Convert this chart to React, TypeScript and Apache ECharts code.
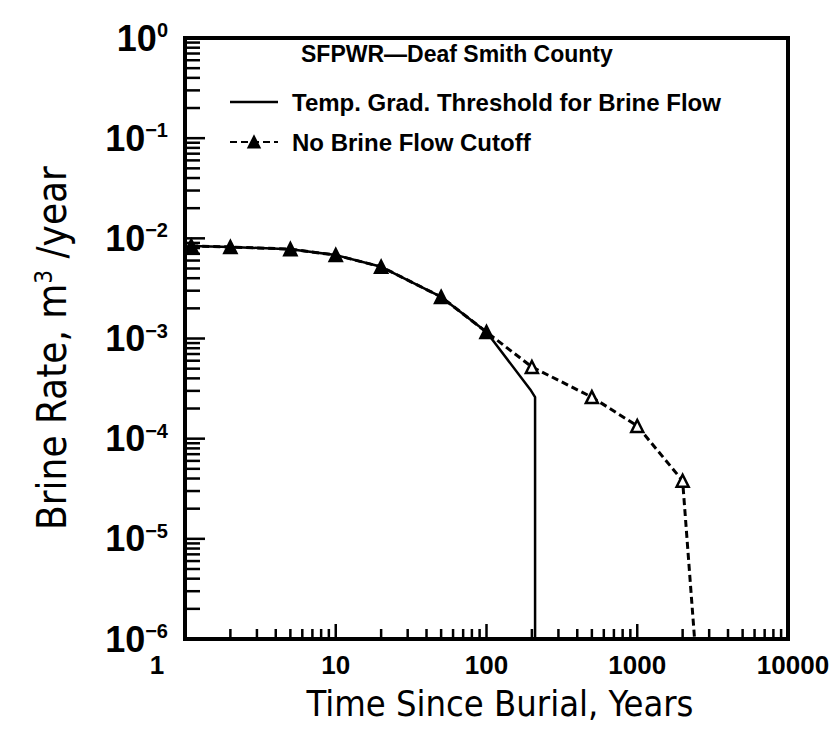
import React, { useEffect, useRef } from "react";
import * as echarts from "echarts";

// ---- data ----
const solidName = "Temp. Grad. Threshold for Brine Flow";
const dashedName = "No Brine Flow Cutoff";
const titleText = "SFPWR—Deaf Smith County";

const solidTime = [1.1, 2, 5, 10, 20, 50, 100, 195, 210, 210];
const solidRate = [8.4e-3, 8.2e-3, 7.8e-3, 6.8e-3, 5.2e-3, 2.6e-3, 1.16e-3, 3.1e-4, 2.6e-4, 1e-6];

const dashedTime = [1.1, 2, 5, 10, 20, 50, 100, 200, 500, 1000, 2000, 2400];
const dashedRate = [8.4e-3, 8.2e-3, 7.8e-3, 6.8e-3, 5.2e-3, 2.6e-3, 1.16e-3, 5.2e-4, 2.6e-4, 1.34e-4, 3.8e-5, 1e-6];
// points without marker (the final drop to the axis)
const dashedNoMarker = [2400];

const xMajorTicks = [1, 10, 100, 1000, 10000];
const yMajorTicks = [1e-6, 1e-5, 1e-4, 1e-3, 1e-2, 1e-1, 1];
const minorMultipliers = [2, 3, 4, 5, 6, 7, 8, 9];

const xLabelsText = ["1", "10", "100", "1000", "10000"];
const xAxisTitle = "Time Since Burial, Years";

const FONT = "'DejaVu Sans Condensed', 'DejaVu Sans', sans-serif";
const BOLD_FONT = "'Liberation Sans', 'DejaVu Sans', sans-serif";

export default function App() {
  const ref = useRef<HTMLDivElement>(null);

  useEffect(() => {
    document.body.style.margin = "0";
    const chart = echarts.init(ref.current!, null, { renderer: "svg" });

    const xMin = xMajorTicks[0];
    const yMin = yMajorTicks[0];

    // tick data: [x, y, isYAxis, isMajor]
    const tickData: number[][] = [];
    xMajorTicks.forEach((t, i) => {
      tickData.push([t, yMin, 0, 1]);
      if (i < xMajorTicks.length - 1) minorMultipliers.forEach((m) => tickData.push([t * m, yMin, 0, 0]));
    });
    yMajorTicks.forEach((t, i) => {
      tickData.push([xMin, t, 1, 1]);
      if (i < yMajorTicks.length - 1) minorMultipliers.forEach((m) => tickData.push([xMin, t * m, 1, 0]));
    });

    const solidSet = new Set(solidTime.map((t, i) => t + ":" + solidRate[i]));
    const dashedData = dashedTime.map((t, i) => {
      const shared = solidSet.has(t + ":" + dashedRate[i]);
      const noMarker = dashedNoMarker.includes(t);
      return {
        value: [t, dashedRate[i]],
        symbolSize: noMarker ? 0 : 12,
        itemStyle: { color: shared ? "#000" : "#fff" },
      };
    });

    const option: any = {
      animation: false,
      backgroundColor: "#fff",
      title: {
        text: titleText,
        left: 301,
        top: 42,
        padding: 0,
        textStyle: { fontSize: 23, fontWeight: "bold", fontFamily: BOLD_FONT, color: "#000" },
      },
      legend: {
        orient: "vertical",
        left: 229,
        top: 90,
        padding: 0,
        itemWidth: 48,
        itemHeight: 14,
        itemGap: 16,
        textStyle: { fontSize: 24, fontWeight: "bold", fontFamily: BOLD_FONT, color: "#000", padding: [0, 0, 0, 9] },
        data: [
          { name: solidName, icon: "path://M0,0H48V2.5H0Z" },
          { name: dashedName, itemStyle: { color: "#000" } },
        ],
      },
      grid: {
        left: 185,
        top: 38,
        width: 603,
        height: 601,
        show: true,
        borderColor: "#000",
        borderWidth: 4,
        backgroundColor: "transparent",
      },
      xAxis: {
        type: "log",
        logBase: 10,
        min: 1,
        max: 10000,
        axisLine: { show: false },
        axisTick: { show: false },
        splitLine: { show: false },
        axisLabel: {
          margin: 13,
          showMinLabel: true,
          showMaxLabel: true,
          color: "#000",
          fontSize: 26,
          fontWeight: "bold",
          fontFamily: BOLD_FONT,
          formatter: (v: number) => {
            const i = xMajorTicks.indexOf(v);
            const s = i >= 0 ? xLabelsText[i] : String(v);
            if (i === 0) return "{first|" + s + "}";
            if (i === xMajorTicks.length - 1) return "{last|" + s + "}";
            return s;
          },
          rich: {
            first: { fontSize: 26, fontWeight: "bold", fontFamily: BOLD_FONT, color: "#000", padding: [0, 56, 0, 0] },
            last: { fontSize: 26, fontWeight: "bold", fontFamily: BOLD_FONT, color: "#000", padding: [0, 0, 0, 10] },
          },
        },
      },
      yAxis: {
        type: "log",
        logBase: 10,
        min: 1e-6,
        max: 1,
        axisLine: { show: false },
        axisTick: { show: false },
        splitLine: { show: false },
        axisLabel: {
          margin: 17,
          showMinLabel: true,
          showMaxLabel: true,
          formatter: (v: number) => {
            const e = Math.round(Math.log10(v));
            return "{b|10}{s|" + (e === 0 ? "0" : "−" + Math.abs(e)) + "}";
          },
          rich: {
            b: { fontSize: 36, lineHeight: 36, fontWeight: "bold", fontFamily: BOLD_FONT, color: "#000", padding: [9, 0, 0, 0], verticalAlign: "bottom" },
            s: { fontSize: 20, lineHeight: 20, fontWeight: "bold", fontFamily: BOLD_FONT, color: "#000", verticalAlign: "top" },
          },
        },
      },
      graphic: [
        {
          type: "text",
          x: 52,
          y: 348,
          rotation: Math.PI / 2,
          style: {
            text: "{a|Brine Rate, m}{s|3}{a| /year}",
            align: "center",
            verticalAlign: "middle",
            rich: {
              a: { fontSize: 40, lineHeight: 40, fontFamily: FONT, fill: "#000", padding: [10, 0, 0, 0], verticalAlign: "bottom" },
              s: { fontSize: 24, lineHeight: 24, fontFamily: FONT, fill: "#000", verticalAlign: "top" },
            },
          },
        },
        {
          type: "text",
          x: 500,
          y: 703,
          style: {
            text: xAxisTitle,
            align: "center",
            verticalAlign: "middle",
            fontSize: 36,
            fontFamily: FONT,
            fill: "#000",
          },
        },
      ],
      series: [
        {
          type: "custom",
          silent: true,
          z: 5,
          data: tickData,
          encode: { x: 0, y: 1 },
          renderItem: (_p: any, api: any) => {
            const isY = api.value(2) === 1;
            const major = api.value(3) === 1;
            const pt = api.coord([api.value(0), api.value(1)]);
            const len = isY ? (major ? 20 : 15) : major ? 15 : 10;
            return {
              type: "line",
              shape: isY
                ? { x1: pt[0], y1: pt[1], x2: pt[0] + len, y2: pt[1] }
                : { x1: pt[0], y1: pt[1], x2: pt[0], y2: pt[1] - len },
              style: { stroke: "#000", lineWidth: 2.5 },
            };
          },
        },
        {
          name: solidName,
          type: "line",
          data: solidTime.map((t, i) => [t, solidRate[i]]),
          showSymbol: false,
          symbol: "none",
          clip: true,
          color: "#000",
          lineStyle: { color: "#000", width: 2.5 },
          z: 3,
        },
        {
          name: dashedName,
          type: "line",
          data: dashedData,
          symbol: "triangle",
          symbolSize: 12,
          clip: true,
          color: "#000",
          lineStyle: { color: "#000", width: 3, type: [7, 4] },
          itemStyle: { color: "#fff", borderColor: "#000", borderWidth: 2.5 },
          z: 4,
        },
      ],
    };

    chart.setOption(option);
    return () => chart.dispose();
  }, []);

  return <div ref={ref} style={{ width: 836, height: 736 }} />;
}
